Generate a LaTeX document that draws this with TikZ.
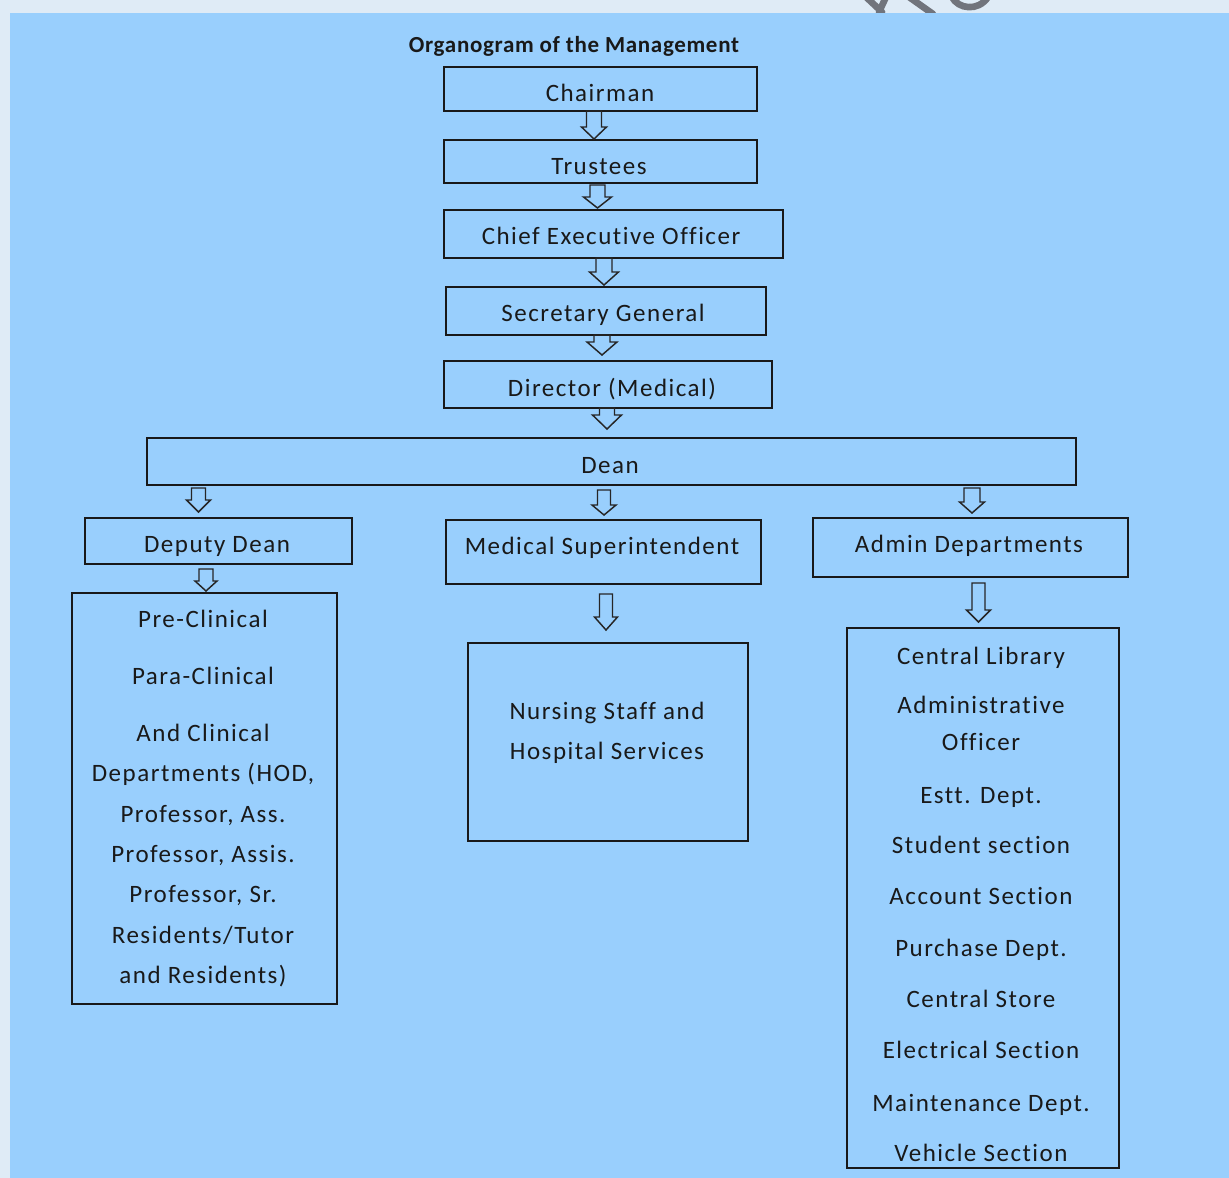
\documentclass[tikz,border=0pt]{standalone}
\usepackage{fontspec}
\setmainfont{Carlito}
\newfontfamily\bodyfont{Carlito}[LetterSpace=6, Ligatures=NoCommon]
\newfontfamily\titlefont{Carlito}[LetterSpace=3, Ligatures=NoCommon]
\usetikzlibrary{calc}
\definecolor{pale}{RGB}{223,235,246}
\definecolor{sky}{RGB}{153,207,253}
\definecolor{wmark}{RGB}{113,116,124}
\tikzset{
  box/.style={draw=black!90, line width=1.4pt, rectangle, inner sep=0pt, outer sep=0pt},
  txt/.style={font=\bodyfont\fontsize{18.75}{22}\selectfont, inner sep=0pt, anchor=base, text=black!90},
  ttl/.style={font=\titlefont\bfseries\fontsize{17.25}{20}\selectfont, inner sep=0pt, anchor=base, text=black!90},
  arr/.style={draw=black!85, line width=1.1pt, line join=miter},
  wm/.style={draw=wmark, line width=5pt, line cap=round}
}
% box: name, x1, y1, x2, y2 (pixels)
\newcommand\rbox[5]{\node[box, minimum width={(#4-#2)*0.75pt}, minimum height={(#5-#3)*0.75pt}] (#1) at ({(#2+#4)/2},{(#3+#5)/2}) {};}
% hollow arrow: from, to, x centre, top gap, tip gap, shaft half width, head half width, head length
\newcommand\harrow[8]{%
\draw[arr] let \p1=(#1.south), \p2=(#2.north) in
 ({(#3-#6)*0.75pt},{\y1-#4*0.75pt}) -- ({(#3-#6)*0.75pt},{\y2+(#5+#8)*0.75pt}) --
 ({(#3-#7)*0.75pt},{\y2+(#5+#8)*0.75pt}) -- ({#3*0.75pt},{\y2+#5*0.75pt}) --
 ({(#3+#7)*0.75pt},{\y2+(#5+#8)*0.75pt}) -- ({(#3+#6)*0.75pt},{\y2+(#5+#8)*0.75pt}) --
 ({(#3+#6)*0.75pt},{\y1-#4*0.75pt}) -- cycle;}
\begin{document}
\begin{tikzpicture}[x=0.75pt, y=-0.75pt]
\useasboundingbox (0,0) rectangle (1229,1178);
\fill[pale] (0,0) rectangle (1229,1178);
% watermark fragment
\draw[wm] (866,-3) -- (882,12);
\draw[wm] (879,12) -- (886,-3);
\draw[wm] (909,-3) -- (933,14);
\draw[wm] (952,-3) .. controls (958,9) and (978,12) .. (988,-3);
\fill[sky] (10,13) rectangle (1229,1178);

\node[ttl] (title) at (574,52) {Organogram of the Management};

\rbox{chair}{444}{67}{757}{111}
\rbox{trust}{444}{140}{757}{183}
\rbox{ceo}{444}{210}{783}{258}
\rbox{sg}{446}{287}{766}{335}
\rbox{dir}{444}{361}{772}{408}
\rbox{dean}{147}{438}{1076}{485}
\rbox{dep}{85}{518}{352}{564}
\rbox{ms}{446}{520}{761}{584}
\rbox{adm}{813}{518}{1128}{577}
\rbox{left}{72}{593}{337}{1004}
\rbox{mid}{468}{643}{748}{841}
\rbox{right}{847}{628}{1119}{1168}

\node[txt] (chairT) at (600,101) {Chairman};
\node[txt] (trustT) at (599,174) {Trustees};
\node[txt] (ceoT) at (611,244) {Chief Executive Officer};
\node[txt] (sgT) at (603,321) {Secretary General};
\node[txt] (dirT) at (612,396) {Director (Medical)};
\node[txt] (deanT) at (610,473) {Dean};
\node[txt] (depT) at (217,552) {Deputy Dean};
\node[txt] (msT) at (602,554) {Medical Superintendent};
\node[txt] (admT) at (969,552) {Admin Departments};

\foreach \yy/\tt [count=\i] in {618/{Pre-Clinical}, 675/{Para-Clinical}, 732/{And Clinical},
  772/{Departments (HOD,}, 813/{Professor, Ass.}, 853/{Professor, Assis.},
  893/{Professor, Sr.}, 934/{Residents/Tutor}, 974/{and Residents)}}
  \node[txt] (leftT\i) at (203,\yy+9) {\tt};

\node[txt] (midT1) at (607,719) {Nursing Staff and};
\node[txt] (midT2) at (607,759) {Hospital Services};

\foreach \yy/\tt [count=\i] in {655/{Central Library}, 704/{Administrative}, 741/{Officer},
  794/{Estt. Dept.}, 844/{Student section}, 895/{Account Section}, 947/{Purchase Dept.},
  998/{Central Store}, 1049/{Electrical Section}, 1102/{Maintenance Dept.}, 1152/{Vehicle Section}}
  \node[txt] (rightT\i) at (981,\yy+9) {\tt};

\harrow{chair}{trust}{594}{0}{1}{7.5}{12.5}{12}
\harrow{trust}{ceo}{597.5}{2}{2}{7.5}{14}{11}
\harrow{ceo}{sg}{604}{0}{2}{8}{14.5}{13}
\harrow{sg}{dir}{602}{0}{6}{8}{15}{13}
\harrow{dir}{dean}{607}{0}{9}{7.5}{14.5}{14}
\harrow{dean}{dep}{198.5}{3}{6}{7}{12}{12}
\harrow{dean}{ms}{604}{5}{5}{6.5}{12}{10}
\harrow{dean}{adm}{972}{3}{5}{8}{12.5}{11}
\harrow{dep}{left}{206}{5}{2}{7}{11}{10}
\harrow{ms}{mid}{606}{10}{13}{6.5}{11.5}{13}
\harrow{adm}{right}{978.5}{6}{6}{6.5}{12}{12}
\end{tikzpicture}
\end{document}
